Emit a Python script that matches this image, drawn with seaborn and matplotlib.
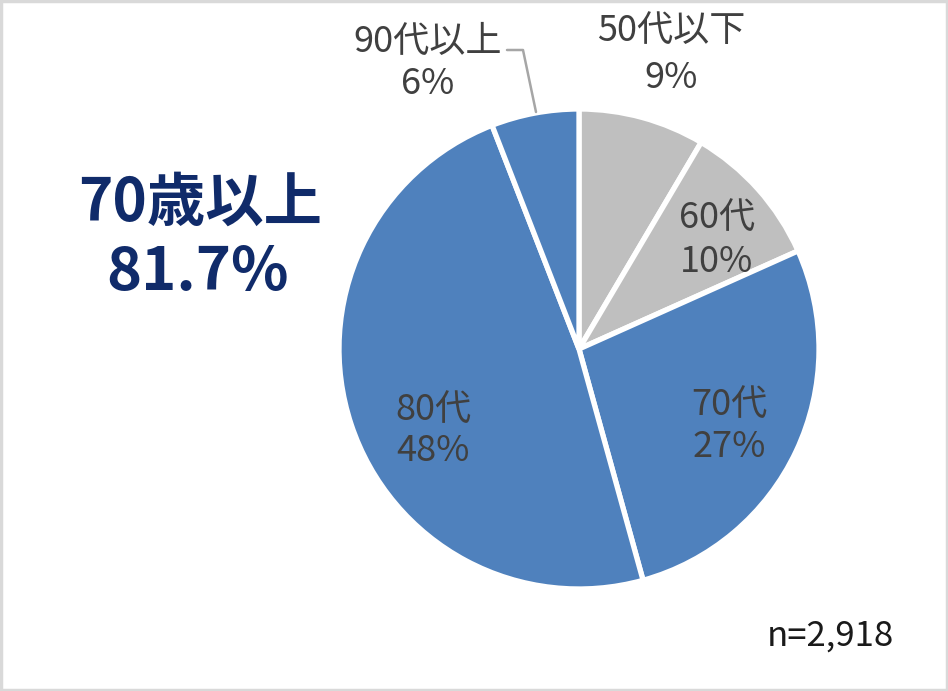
import matplotlib
matplotlib.use("Agg")
import matplotlib.pyplot as plt
import seaborn as sns
from matplotlib.patches import Rectangle

sns.set_theme(style="white")
plt.rcParams['font.family'] = ['Noto Sans CJK JP', 'DejaVu Sans']

categories = ["50代以下", "60代", "70代", "80代", "90代以上"]
values = [8.5, 9.8, 27.4, 48.4, 5.9]
pct_labels = ["9%", "10%", "27%", "48%", "6%"]
colors = ["#BFBFBF", "#BFBFBF", "#4F81BD", "#4F81BD", "#4F81BD"]
headline = "70歳以上"
headline_value = "81.7%"
n_text = "n=2,918"

W, H = 948, 691
fig = plt.figure(figsize=(W / 100, H / 100), dpi=100)
ax = fig.add_axes([0, 0, 1, 1])

cx, cy, r = 579, H - 349, 240
ax.pie(values, colors=colors, startangle=90, counterclock=False,
       center=(cx, cy), radius=r, frame=True,
       wedgeprops=dict(edgecolor='white', linewidth=3.8))
ax.set_xlim(0, W)
ax.set_ylim(0, H)
ax.set_aspect('equal')
ax.axis('off')

lab_color = "#404040"
fs = 26
label_pos = [(671, 31, 78), (717, 218, 262), (729, 405, 447), (433, 410, 451), (428, 42, 84)]
for cat, pct, (x, y1, y2) in zip(categories, pct_labels, label_pos):
    ax.text(x, H - y1, cat, ha='center', va='center', fontsize=fs, color=lab_color)
    ax.text(x, H - y2, pct, ha='center', va='center', fontsize=fs, color=lab_color)

# leader line for 90代以上
ax.plot([507, 523, 536], [H - 50, H - 50, H - 112], color="#A6A6A6", lw=1.8)

navy = "#102B6A"
ax.text(200, H - 204, headline, ha='center', va='center', fontsize=42,
        fontweight='bold', color=navy)
ax.text(198, H - 273, headline_value, ha='center', va='center', fontsize=43,
        fontweight='bold', color=navy)

ax.text(830, H - 636, n_text, ha='center', va='center', fontsize=25, color="#1A1A1A")

fig.patches.append(Rectangle((0.0015, 0.002), 0.997, 0.996, transform=fig.transFigure,
                             fill=False, edgecolor="#D9D9D9", linewidth=2.5))

fig.savefig("out.png", dpi=100)
